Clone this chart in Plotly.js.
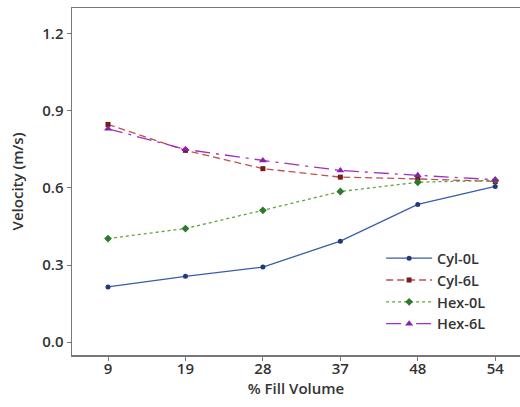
<!DOCTYPE html>
<html>
<head>
<meta charset="utf-8">
<script src="https://cdn.plot.ly/plotly-3.0.1.min.js"></script>
<style>html,body{margin:0;padding:0;background:#fff;}#chart{width:520px;height:407px;}</style>
</head>
<body>
<div id="chart"></div>
<script>
const fillVolume = ['9', '19', '28', '37', '48', '54'];
const cyl0L = [0.215, 0.256, 0.292, 0.393, 0.536, 0.606];
const cyl6L = [0.847, 0.746, 0.675, 0.642, 0.635, 0.625];
const hex0L = [0.403, 0.442, 0.513, 0.586, 0.622, 0.630];
const hex6L = [0.830, 0.750, 0.707, 0.668, 0.649, 0.632];
const yTicks = [0.0, 0.3, 0.6, 0.9, 1.2];

const traces = [
  {x: fillVolume, y: cyl0L, name: 'Cyl-0L', mode: 'lines+markers',
   line: {color: '#3b5ca8', width: 1.3, dash: 'solid'},
   marker: {symbol: 'circle', size: 5, color: '#1f3a78'}},
  {x: fillVolume, y: cyl6L, name: 'Cyl-6L', mode: 'lines+markers',
   line: {color: '#c0504d', width: 1.3, dash: '7px,4px'},
   marker: {symbol: 'square', size: 5, color: '#7a1a1a'}},
  {x: fillVolume, y: hex0L, name: 'Hex-0L', mode: 'lines+markers',
   line: {color: '#5aa83a', width: 1.3, dash: 'dot'},
   marker: {symbol: 'diamond', size: 6, color: '#2d7a2d'}},
  {x: fillVolume, y: hex6L, name: 'Hex-6L', mode: 'lines+markers',
   line: {color: '#a030c0', width: 1.3, dash: 'longdashdot'},
   marker: {symbol: 'triangle-up', size: 7, color: '#8a20b0'}}
];

const fontFam = 'Open Sans, Noto Sans, sans-serif';
const layout = {
  width: 520, height: 407,
  margin: {l: 72, r: 0, t: 8, b: 52},
  paper_bgcolor: '#fff', plot_bgcolor: '#fff',
  font: {family: fontFam, size: 15, color: '#333', weight: 600},
  showlegend: true,
  legend: {x: 0.69, y: 0.325, xanchor: 'left', yanchor: 'top',
    bgcolor: 'rgba(0,0,0,0)', font: {size: 14.5, color: '#333', family: fontFam, weight: 600},
    tracegroupgap: 0, itemwidth: 46},
  xaxis: {
    type: 'category', range: [-0.465, 5.32],
    showline: true, linecolor: '#777', linewidth: 1.5, mirror: true,
    ticks: 'outside', ticklen: 4, tickcolor: '#777', ticklabelstandoff: -5,
    showgrid: false, zeroline: false,
    tickfont: {size: 15, color: '#333'},
    title: {text: '% Fill Volume', font: {size: 15, color: '#333'}, standoff: 2}
  },
  yaxis: {
    range: [-0.05, 1.3], tickvals: yTicks, ticktext: yTicks.map(v => v.toFixed(1)),
    showline: true, linecolor: '#777', linewidth: 1.5, mirror: false,
    ticks: 'outside', ticklen: 4, tickcolor: '#777',
    showgrid: false, zeroline: false,
    tickfont: {size: 15, color: '#333'},
    title: {text: 'Velocity (m/s)', font: {size: 15, color: '#333'}, standoff: 15}
  }
};
Plotly.newPlot('chart', traces, layout, {displayModeBar: false, staticPlot: true});
</script>
</body>
</html>
